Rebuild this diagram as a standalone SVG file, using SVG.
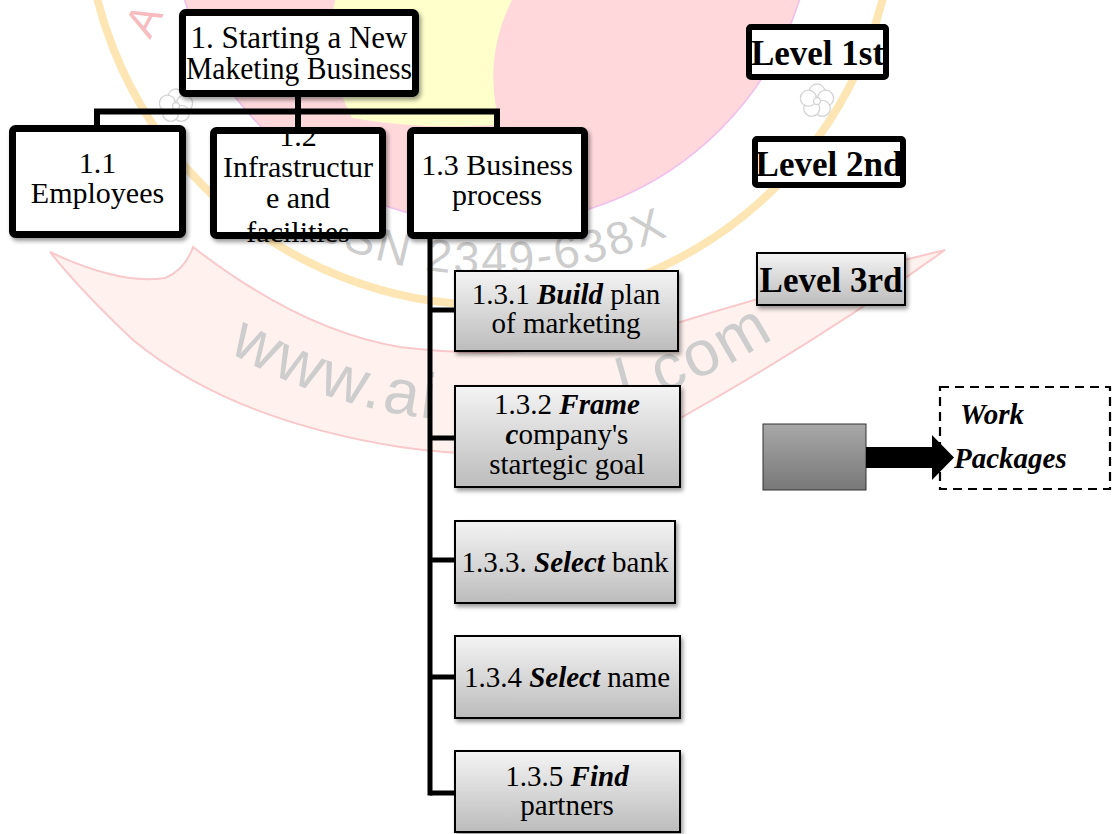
<svg xmlns="http://www.w3.org/2000/svg" width="1112" height="834" viewBox="0 0 1112 834">
  <defs>
    <linearGradient id="g3" x1="0" y1="0" x2="0" y2="1">
      <stop offset="0" stop-color="#F4F4F4"/>
      <stop offset="1" stop-color="#BCBCBC"/>
    </linearGradient>
    <linearGradient id="gdark" x1="0" y1="0" x2="0" y2="1">
      <stop offset="0" stop-color="#A8A8A8"/>
      <stop offset="1" stop-color="#787878"/>
    </linearGradient>
    <filter id="sh" x="-10%" y="-10%" width="125%" height="130%">
      <feDropShadow dx="2" dy="3" stdDeviation="2" flood-color="#000" flood-opacity="0.4"/>
    </filter>
    <path id="arcIssn" d="M 65,-150 A 425,425 0 0,0 915,-150"/>
    <path id="arcWww" d="M -32,-100 A 522,522 0 0,0 1012,-100"/>
    <g id="flower" fill="#fff" stroke="#D4D4D4" stroke-width="1.3">
      <circle cx="0" cy="-9" r="8"/>
      <circle cx="8.6" cy="-2.8" r="8"/>
      <circle cx="5.3" cy="7.3" r="8"/>
      <circle cx="-5.3" cy="7.3" r="8"/>
      <circle cx="-8.6" cy="-2.8" r="8"/>
      <circle cx="0" cy="0" r="3.5"/>
    </g>
  </defs>
  <style>
    .serif { font-family: "Liberation Serif", "Times New Roman", serif; fill: #000; }
    .l2 { font-size: 30px; text-anchor: middle; }
    .l3 { font-size: 29px; text-anchor: middle; }
    .bi { font-weight: bold; font-style: italic; }
    .lvl { font-size: 35px; font-weight: bold; text-anchor: middle; }
    .thick { fill: #fff; stroke: #000; stroke-width: 7; }
    .box3 { fill: url(#g3); stroke: #000; stroke-width: 2; }
    .conn { stroke: #000; fill: none; }
    .wm { font-family: "Liberation Sans", Arial, sans-serif; fill: #CDCDCD; }
  </style>

  <rect x="0" y="0" width="1112" height="834" fill="#fff"/>

  <!-- background watermark -->
  <g id="watermark">
    <circle cx="492" cy="-99" r="323" fill="#FFD8DC" stroke="#F0C0EC" stroke-width="1.6"/>
    <path d="M 335,0 L 512,0 Q 482,60 500,125 Q 420,130 352,118 Q 322,60 335,0 Z" fill="#FFFFCC"/>
    <circle cx="490" cy="-100" r="405" fill="none" stroke="#FDE6B4" stroke-width="8"/>
    <path d="M 50,252 Q 120,285 165,278 Q 185,270 193,247 Q 300,330 400,347 Q 540,365 677,323 Q 800,285 945,250 Q 820,340 677,420 Q 560,470 400,447 Q 230,420 133,340 Q 80,290 50,252 Z" fill="#FFF2EE" stroke="#F9C8CA" stroke-width="2"/>
    <use href="#flower" x="176" y="106"/>
    <use href="#flower" x="817" y="101"/>
    <text class="wm" font-size="46" letter-spacing="3" text-anchor="middle"><textPath href="#arcIssn" startOffset="660">ISSN 2349-638X</textPath></text>
    <text class="wm" font-size="64" letter-spacing="3"><textPath href="#arcWww" startOffset="545">www.ai</textPath></text>
    <text class="wm" font-size="64" letter-spacing="3"><textPath href="#arcWww" startOffset="955">l.com</textPath></text>
    <text x="0" y="0" font-family="Liberation Sans, Arial, sans-serif" font-size="44" fill="#F6BCC0" transform="translate(150,40) rotate(-62)">A</text>
  </g>

  <!-- connectors -->
  <g id="connectors" class="conn">
    <path d="M 298,97 V 127" stroke-width="6"/>
    <path d="M 97,127 V 111.5 H 497 V 127" stroke-width="6"/>
    <path d="M 430,239 V 795.5" stroke-width="5"/>
    <path d="M 430,310 H 455 M 430,438 H 455 M 430,560 H 455 M 430,677 H 455 M 430,793 H 455" stroke-width="5"/>
  </g>

  <!-- level 1 -->
  <g id="node-root">
    <rect class="thick" x="182.5" y="12.5" width="233" height="81" rx="3" filter="url(#sh)"/>
    <text class="serif" font-size="31" text-anchor="middle" x="299" y="48">1. Starting a New</text>
    <text class="serif" font-size="31" text-anchor="middle" x="299" y="79" textLength="226" lengthAdjust="spacingAndGlyphs">Maketing Business</text>
  </g>

  <!-- level 2 -->
  <g id="node-1-1">
    <rect class="thick" x="12.5" y="128.5" width="170" height="106" rx="3" filter="url(#sh)"/>
    <text class="serif l2" x="97.5" y="173">1.1</text>
    <text class="serif l2" x="97.5" y="203">Employees</text>
  </g>
  <g id="node-1-2">
    <rect class="thick" x="213.5" y="130.5" width="169" height="105" rx="3" filter="url(#sh)"/>
    <text class="serif l2" x="298" y="146">1.2</text>
    <text class="serif l2" x="298" y="177">Infrastructur</text>
    <text class="serif l2" x="298" y="208">e and</text>
    <text class="serif l2" x="298" y="242">facilities</text>
  </g>
  <g id="node-1-3">
    <rect class="thick" x="410.5" y="130.5" width="174" height="105" rx="3" filter="url(#sh)"/>
    <text class="serif l2" x="497" y="175">1.3 Business</text>
    <text class="serif l2" x="497" y="205">process</text>
  </g>

  <!-- level 3 -->
  <g id="node-1-3-1">
    <rect class="box3" x="455" y="271" width="223" height="80" filter="url(#sh)"/>
    <text class="serif l3" x="566" y="304">1.3.1 <tspan class="bi">Build</tspan> plan</text>
    <text class="serif l3" x="566" y="333">of marketing</text>
  </g>
  <g id="node-1-3-2">
    <rect class="box3" x="455" y="386" width="225" height="101" filter="url(#sh)"/>
    <text class="serif l3" x="567" y="414">1.3.2 <tspan class="bi">Frame</tspan></text>
    <text class="serif l3" x="567" y="444"><tspan class="bi">c</tspan>ompany's</text>
    <text class="serif l3" x="567" y="474">startegic goal</text>
  </g>
  <g id="node-1-3-3">
    <rect class="box3" x="455" y="521" width="220" height="82" filter="url(#sh)"/>
    <text class="serif l3" x="565" y="572">1.3.3. <tspan class="bi">Select</tspan> bank</text>
  </g>
  <g id="node-1-3-4">
    <rect class="box3" x="455" y="636" width="225" height="82" filter="url(#sh)"/>
    <text class="serif l3" x="567" y="687">1.3.4 <tspan class="bi">Select</tspan> name</text>
  </g>
  <g id="node-1-3-5">
    <rect class="box3" x="455" y="751" width="225" height="81" filter="url(#sh)"/>
    <text class="serif l3" x="567" y="786">1.3.5 <tspan class="bi">Find</tspan></text>
    <text class="serif l3" x="567" y="815">partners</text>
  </g>

  <!-- legend -->
  <g id="legend-level1">
    <rect x="749" y="27" width="137" height="50" rx="2" fill="#fff" stroke="#000" stroke-width="6"/>
    <text class="serif lvl" x="817.5" y="65">Level 1st</text>
  </g>
  <g id="legend-level2">
    <rect x="755" y="139" width="148" height="46" rx="2" fill="#fff" stroke="#000" stroke-width="6"/>
    <text class="serif lvl" x="829" y="176">Level 2nd</text>
  </g>
  <g id="legend-level3">
    <rect class="box3" x="757" y="253" width="148" height="52" filter="url(#sh)"/>
    <text class="serif lvl" x="831" y="292">Level 3rd</text>
  </g>
  <g id="legend-work-packages">
    <rect x="763" y="424" width="103" height="66" fill="url(#gdark)" stroke="#333" stroke-width="1"/>
    <rect x="940" y="387" width="170" height="102" fill="#fff" stroke="#000" stroke-width="2.2" stroke-dasharray="9 6"/>
    <polygon points="866,447 932,447 932,435 954,457.5 932,480 932,468 866,468" fill="#000"/>
    <text class="serif bi" font-size="29" x="960" y="424">Work</text>
    <text class="serif bi" font-size="29" x="954" y="468">Packages</text>
  </g>
</svg>
